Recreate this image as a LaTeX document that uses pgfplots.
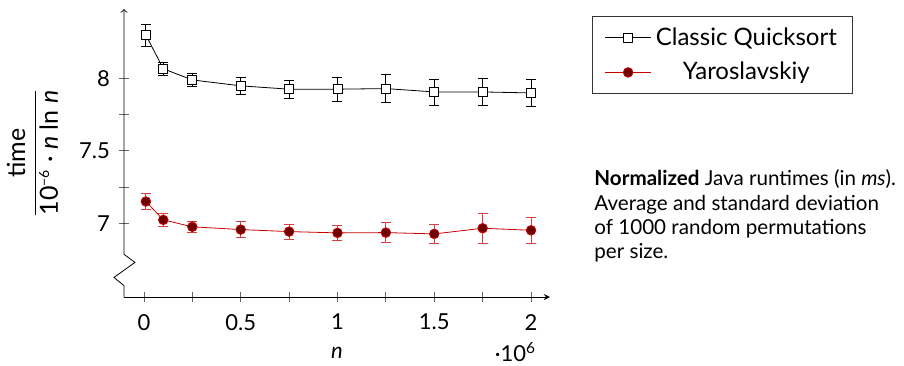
\documentclass[border=0pt]{standalone}
\usepackage{fontspec}
\setmainfont{Lato}
\usepackage{pgfplots}
\pgfplotsset{compat=1.18}
\definecolor{yred}{RGB}{200,0,0}
\definecolor{ydark}{RGB}{110,0,0}
\begin{document}
\begin{tikzpicture}
\begin{axis}[
  scale only axis, width=213pt, height=144pt,
  xmin=-103000, xmax=2098000, ymin=6.49, ymax=8.48,
  axis x line=bottom, axis y line=left,
  y axis line style={draw=none},
  xtick={0,500000,1000000,1500000,2000000}, minor x tick num=1,
  ytick={7,7.5,8}, minor y tick num=1,
  tick align=center, tick style={black!60, thin},
  major tick length=5pt, minor tick length=5pt,
  /pgf/number format/assume math mode=true,
  tick label style={font=\fontsize{11}{13}\selectfont},
  xticklabel style={yshift=-2.5pt},
  yticklabel style={xshift=-1pt},
  xtick scale label code/.code={\mbox{\fontsize{11}{13}\selectfont ·10\textsuperscript{6}}},
  every x tick scale label/.append style={xshift=4pt, yshift=5pt},
  clip=false,
  xlabel={\textit{n}},
  xlabel style={font=\fontsize{11}{13}\selectfont, yshift=-1.5pt},
  ylabel={$\displaystyle\frac{\mbox{time}}{\mbox{10$^{\mbox{\scriptsize −6}}$ · \textit{n} ln \textit{n}}}$},
  ylabel style={at={(axis description cs:-0.215,0.5)}, anchor=center, font=\fontsize{12.5}{15}\selectfont},
  legend cell align=center,
  legend image code/.code={\draw[mark repeat=2,mark phase=2,#1] plot coordinates {(0cm,0cm) (0.41cm,0cm) (0.82cm,0cm)};},
  legend style={at={(axis description cs:1,1)}, anchor=north west, xshift=21pt, yshift=-3.5pt, draw=black!80, font=\large, row sep=3pt, inner ysep=3.5pt, inner xsep=6pt},
]
\coordinate (O) at (rel axis cs:0,0);
\addplot[black, mark=square*, mark options={fill=white, solid}, mark size=2.25pt,
  error bars/.cd, y dir=both, y explicit, error bar style={black}, error mark options={rotate=90, mark size=2.5pt, black}]
  table[x=x, y=y, y error=e] {
x y e
10000 8.300 0.075
100000 8.067 0.047
250000 7.990 0.045
500000 7.949 0.059
750000 7.926 0.064
1000000 7.926 0.081
1250000 7.930 0.097
1500000 7.907 0.090
1750000 7.907 0.095
2000000 7.900 0.095
};
\addlegendentry{Classic Quicksort}
\addplot[yred, mark=*, mark options={fill=ydark, draw=yred}, mark size=2.4pt,
  error bars/.cd, y dir=both, y explicit, error bar style={yred!75}, error mark options={rotate=90, mark size=2.5pt, yred!75}]
  table[x=x, y=y, y error=e] {
x y e
10000 7.150 0.053
100000 7.023 0.044
250000 6.975 0.040
500000 6.956 0.053
750000 6.942 0.052
1000000 6.933 0.050
1250000 6.935 0.070
1500000 6.926 0.0625
1750000 6.965 0.105
2000000 6.951 0.090
};
\addlegendentry{Yaroslavskiy}
\draw[->] (axis cs:-103000,6.49) -- (axis cs:-103000,6.569) -- (axis cs:-155000,6.625) -- (axis cs:-46500,6.729) -- (axis cs:-103000,6.785) -- (axis cs:-103000,8.48);
\node[anchor=north west, align=left, inner sep=0pt, font=\fontsize{10.3}{12.2}\selectfont] at ([xshift=22pt]rel axis cs:1,0.443)
  {\textbf{Normalized} Java runtimes (in \textit{ms}).\\Average and standard deviation\\of 1000 random permutations\\per size.};
\end{axis}
\pgfresetboundingbox
\path ([shift={(-62pt,-34pt)}]O) rectangle ([shift={(390pt,148.5pt)}]O);
\end{tikzpicture}
\end{document}
